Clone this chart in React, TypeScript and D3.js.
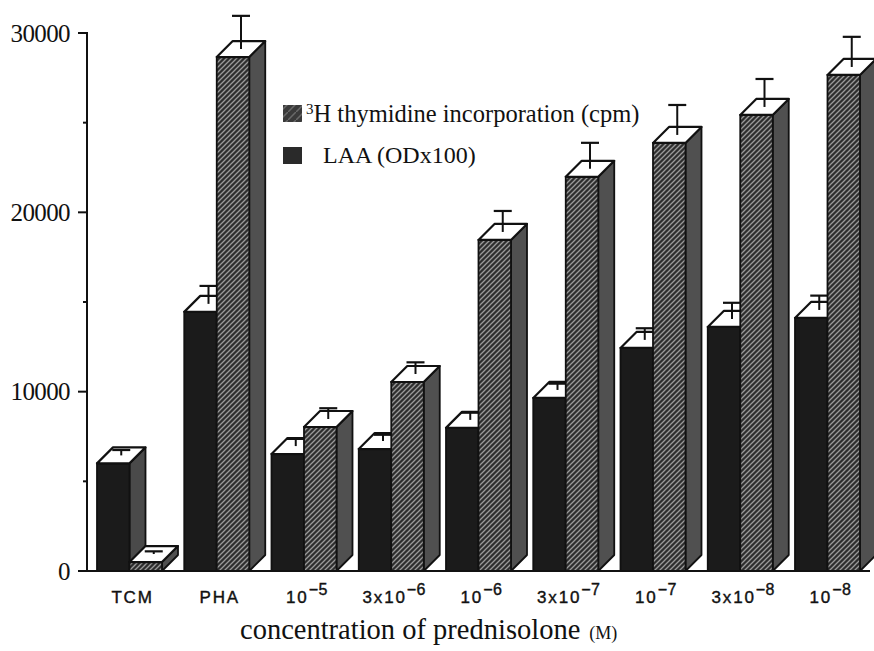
import React from "react";
import * as d3 from "d3";

const categories = ["TCM", "PHA", "1e-5", "3e-6", "1e-6", "3e-7", "1e-7", "3e-8", "1e-8"];
const labelBase = ["TCM", "PHA", "10", "3x10", "10", "3x10", "10", "3x10", "10"];
const labelExp = ["", "", "−5", "−6", "−6", "−7", "−7", "−8", "−8"];
const laaValues = [6000, 14450, 6520, 6800, 7980, 9650, 12440, 13610, 14110];
const laaErrors = [300, 1000, 400, 350, 400, 350, 650, 900, 800];
const thyValues = [500, 28660, 8030, 10540, 18460, 21980, 23870, 25430, 27660];
const thyErrors = [150, 1850, 600, 650, 1170, 1450, 1670, 1560, 1680];
const yTicks = [0, 10000, 20000, 30000];
const yMinorTicks = [5000, 15000, 25000];
const legendLabels = ["H thymidine incorporation (cpm)", "LAA (ODx100)"];

const W = 874;
const H = 651;
const D = 16; // depth offset
const BW = 32.5;

export default function App() {
  const y = d3.scaleLinear().domain([0, 30000]).range([571, 33]);
  const x = d3.scaleBand<string>().domain(categories).range([97, 97 + 9 * 87.25]).paddingInner(0).paddingOuter(0);
  const y0 = y(0);

  const bar = (x0: number, v: number, e: number, front: string, side: string, key: string) => {
    const yt = y(v);
    const x1 = x0 + BW;
    const sidePts = `${x1},${y0} ${x1 + D},${y0 - D} ${x1 + D},${yt - D} ${x1},${yt}`;
    const topPts = `${x0},${yt} ${x0 + D},${yt - D} ${x1 + D},${yt - D} ${x1},${yt}`;
    const cx = x0 + BW / 2 + D / 2;
    const cy = yt - D / 2;
    const ye = y(v + e) - D / 2;
    return (
      <g key={key}>
        <polygon points={sidePts} fill={side} stroke="#111" strokeWidth={1.8} strokeLinejoin="round" />
        <rect x={x0} y={yt} width={BW} height={y0 - yt} fill={front} stroke="#111" strokeWidth={1.8} />
        <polygon points={topPts} fill="#fff" stroke="#111" strokeWidth={2.2} strokeLinejoin="round" />
        <line x1={cx} x2={cx} y1={cy} y2={ye} stroke="#111" strokeWidth={2} />
        <line x1={cx - 9} x2={cx + 9} y1={ye} y2={ye} stroke="#111" strokeWidth={2.2} />
      </g>
    );
  };

  return (
    <svg width={W} height={H} style={{ position: "absolute", left: 0, top: 0, background: "#fff" }}>
      <defs>
        <pattern id="hatch" patternUnits="userSpaceOnUse" width={5} height={5}>
          <rect width={5} height={5} fill="#2e2e2e" />
          <path d="M-1,6 L6,-1 M-1,1 L1,-1 M4,6 L6,4" stroke="#9a9a9a" strokeWidth={1.3} />
        </pattern>
        <pattern id="hatchLeg" patternUnits="userSpaceOnUse" width={8} height={8}>
          <rect width={8} height={8} fill="#3a3a3a" />
          <path d="M-1,9 L9,-1" stroke="#6a6a6a" strokeWidth={1.5} />
        </pattern>
      </defs>

      {/* bars */}
      {categories.map((c, i) => {
        const x0 = x(c) as number;
        return (
          <g key={c}>
            {bar(x0, laaValues[i], laaErrors[i], "#1b1b1b", "#4a4a4a", "laa")}
            {bar(x0 + BW, thyValues[i], thyErrors[i], "url(#hatch)", "#505050", "thy")}
          </g>
        );
      })}

      {/* axes */}
      <line x1={87} x2={87} y1={y(30000) - 1} y2={y0 + 1} stroke="#111" strokeWidth={2} />
      <line x1={86} x2={870} y1={y0} y2={y0} stroke="#111" strokeWidth={2} />
      {yTicks.map((t) => (
        <g key={t}>
          <line x1={78} x2={87} y1={y(t)} y2={y(t)} stroke="#111" strokeWidth={2} />
          <text x={70} y={y(t) + 8.5} textAnchor="end" fontFamily="Liberation Serif, serif" fontSize={25} fill="#111" letterSpacing={-0.6}>
            {t}
          </text>
        </g>
      ))}
      {yMinorTicks.map((t) => (
        <line key={t} x1={83} x2={87} y1={y(t)} y2={y(t)} stroke="#111" strokeWidth={2} />
      ))}

      {/* x tick labels */}
      {categories.map((c, i) => (
        <text
          key={c}
          x={(x(c) as number) + BW + 3}
          y={603}
          textAnchor="middle"
          fontFamily="Liberation Sans, Arial, sans-serif"
          fontSize={17}
          letterSpacing={1.8}
          fill="#111"
          stroke="#111"
          strokeWidth={0.4}
        >
          {labelBase[i]}
          {labelExp[i] && (
            <tspan dy={-8} fontSize={16} letterSpacing={0.5}>
              {labelExp[i]}
            </tspan>
          )}
        </text>
      ))}

      {/* legend */}
      <rect x={283} y={105} width={19} height={17} fill="url(#hatchLeg)" />
      <text x={306} y={122} fontFamily="Liberation Serif, serif" fontSize={24.5} fill="#111">
        <tspan dy={-8} fontSize={15}>3</tspan>
        <tspan dy={8}>{legendLabels[0]}</tspan>
      </text>
      <rect x={283} y={147} width={19} height={17} fill="#2a2a2a" />
      <text x={323} y={163} fontFamily="Liberation Serif, serif" fontSize={24} fill="#111">
        {legendLabels[1]}
      </text>

      {/* x axis title */}
      <text x={240} y={639} fontFamily="Liberation Serif, serif" fontSize={28.5} fill="#111">
        concentration of prednisolone
        <tspan fontSize={18} dx={9}>(M)</tspan>
      </text>
    </svg>
  );
}
